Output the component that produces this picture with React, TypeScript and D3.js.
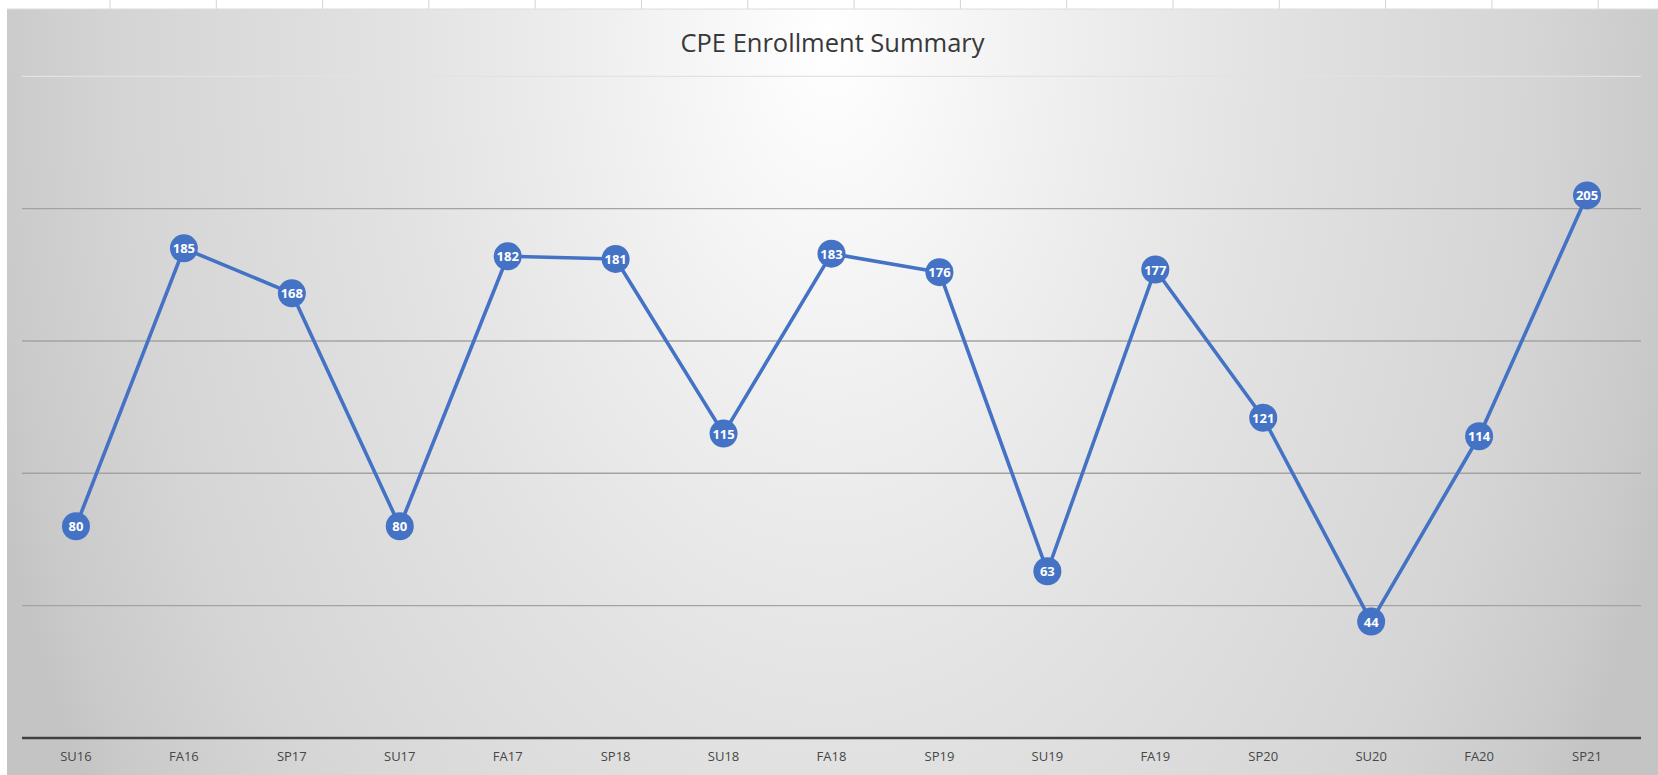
import React from "react";
import * as d3 from "d3";

const categories = ["SU16", "FA16", "SP17", "SU17", "FA17", "SP18", "SU18", "FA18", "SP19", "SU19", "FA19", "SP20", "SU20", "FA20", "SP21"];
const enrollment = [80, 185, 168, 80, 182, 181, 115, 183, 176, 63, 177, 121, 44, 114, 205];
const gridValues = [50, 100, 150, 200];
const yMax = 250;
const title = "CPE Enrollment Summary";
const sheetColumns = d3.range(15);

const W = 1658;
const H = 775;
const chartLeft = 7;
const chartTop = 9;
const plotLeft = 22;
const plotRight = 1641;
const plotTop = 76.3;
const plotBottom = 738;
const font = "'Open Sans', 'Liberation Sans', sans-serif";

export default function App() {
  const x = d3.scaleBand<string>().domain(categories).range([plotLeft, plotRight]);
  const cx = (c: string) => (x(c) as number) + x.bandwidth() / 2;
  const y = d3.scaleLinear().domain([0, yMax]).range([plotBottom, plotTop]);
  const colX = d3.scaleLinear().domain([0, 1]).range([110, 216.3]);

  const line = d3
    .line<number>()
    .x((_, i) => cx(categories[i]))
    .y((d) => y(d));

  return (
    <svg
      width={W}
      height={H}
      style={{ position: "absolute", left: 0, top: 0, display: "block", background: "#ffffff" }}
    >
      <defs>
        <radialGradient
          id="bg"
          gradientUnits="userSpaceOnUse"
          cx="0"
          cy="0"
          r="1"
          gradientTransform="translate(830,40) scale(880,1400)"
        >
          <stop offset="0" stopColor="#ffffff" />
          <stop offset="0.28" stopColor="#eeeeee" />
          <stop offset="0.5" stopColor="#e2e2e2" />
          <stop offset="0.8" stopColor="#d5d5d5" />
          <stop offset="0.95" stopColor="#cacaca" />
          <stop offset="1" stopColor="#c4c4c4" />
        </radialGradient>
      </defs>
      {sheetColumns.map((i) => (
        <line key={i} x1={colX(i)} x2={colX(i)} y1={0} y2={chartTop} stroke="#d4d4d4" strokeWidth={1} />
      ))}
      <rect x={chartLeft} y={chartTop} width={W - chartLeft} height={H - chartTop} fill="url(#bg)" />
      <line x1={chartLeft} x2={W} y1={chartTop} y2={chartTop} stroke="#dcdcdc" strokeWidth={1} />
      <text
        x={(chartLeft + W) / 2}
        y={42}
        textAnchor="middle"
        dominantBaseline="central"
        fontFamily={font}
        fontSize={25.5}
        fill="#383838"
      >
        {title}
      </text>
      <line x1={plotLeft} x2={plotRight} y1={y(yMax)} y2={y(yMax)} stroke="#e2e2e2" strokeWidth={1.3} />
      {gridValues.map((v) => (
        <line key={v} x1={plotLeft} x2={plotRight} y1={y(v)} y2={y(v)} stroke="#a3a3a3" strokeWidth={1.4} />
      ))}
      <line x1={plotLeft} x2={plotRight} y1={y(0)} y2={y(0)} stroke="#404040" strokeWidth={2.6} />
      {categories.map((c) => (
        <text
          key={c}
          x={cx(c)}
          y={756}
          textAnchor="middle"
          dominantBaseline="central"
          fontFamily={font}
          fontSize={13}
          fontWeight={500}
          fill="#474747"
        >
          {c}
        </text>
      ))}
      <path d={line(enrollment) || ""} fill="none" stroke="#4472C4" strokeWidth={3.6} strokeLinejoin="round" />
      {enrollment.map((v, i) => (
        <g key={i}>
          <circle cx={cx(categories[i])} cy={y(v)} r={14} fill="#4472C4" />
          <text
            x={cx(categories[i])}
            y={y(v)}
            textAnchor="middle"
            dominantBaseline="central"
            fontFamily={font}
            fontSize={13}
            fontWeight="bold"
            fill="#ffffff"
          >
            {v}
          </text>
        </g>
      ))}
    </svg>
  );
}
